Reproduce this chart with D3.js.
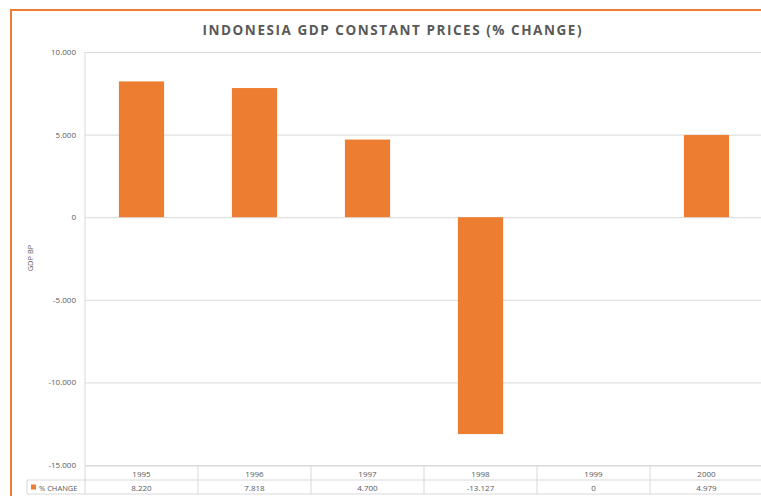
<!DOCTYPE html>
<html>
<head>
<meta charset="utf-8">
<script src="https://cdn.jsdelivr.net/npm/d3@7"></script>
<style>
  html, body { margin: 0; padding: 0; background: #fff; }
  svg { display: block; }
  text { font-family: "Open Sans", "Liberation Sans", sans-serif; }
</style>
</head>
<body>
<div id="chart"></div>
<script>
// Indonesia GDP, constant prices, annual % change
const years = ["1995", "1996", "1997", "1998", "1999", "2000"];
const pctChange = [8.220, 7.818, 4.700, -13.127, 0, 4.979];
const tableLabels = ["8.220", "7.818", "4.700", "-13.127", "0", "4.979"];
const yTicks = [10, 5, 0, -5, -10, -15];
const tickLabels = ["10.000", "5.000", "0", "-5.000", "-10.000", "-15.000"];
const seriesName = "% CHANGE";
const chartTitle = "INDONESIA GDP CONSTANT PRICES (% CHANGE)";
const axisTitle = "GDP BP";

const W = 761, H = 496;
const orange = "#ED7D31";
const grid = "#d9d9d9";
const textGray = "#595959";

const svg = d3.select("#chart").append("svg")
  .attr("width", W).attr("height", H);

// chart frame
svg.append("rect").attr("x", 0).attr("y", 0).attr("width", W).attr("height", H).attr("fill", "#fff");
svg.append("line").attr("x1", 11).attr("x2", W).attr("y1", 10).attr("y2", 10)
  .attr("stroke", orange).attr("stroke-width", 2);
svg.append("line").attr("x1", 11).attr("x2", 11).attr("y1", 9).attr("y2", H)
  .attr("stroke", orange).attr("stroke-width", 2);

// title
svg.append("text")
  .attr("x", 392).attr("y", 35)
  .attr("text-anchor", "middle")
  .attr("font-size", 13.5).attr("font-weight", "bold")
  .attr("fill", textGray)
  .attr("textLength", 379)
  .attr("lengthAdjust", "spacing")
  .text(chartTitle);

const plotLeft = 85, plotRight = 763;
const x = d3.scaleBand().domain(years).range([plotLeft, plotRight]).paddingInner(0.6).paddingOuter(0.3);
const xCol = d3.scaleBand().domain(years).range([plotLeft, plotRight]);
const y = d3.scaleLinear().domain([-15, 10]).range([465, 52]);

// gridlines and value axis
const yAxis = d3.axisLeft(y).tickValues(yTicks)
  .tickSize(-(plotRight - plotLeft))
  .tickFormat((d, i) => tickLabels[i]);
const gy = svg.append("g").attr("transform", `translate(${plotLeft},0)`).call(yAxis);
gy.select(".domain").remove();
gy.selectAll(".tick line").attr("stroke", grid).attr("stroke-width", 1);
gy.selectAll(".tick text").attr("x", -9).attr("fill", textGray).attr("font-size", 8);

// left edge of plot area
svg.append("line").attr("x1", plotLeft).attr("x2", plotLeft).attr("y1", 52).attr("y2", 494)
  .attr("stroke", grid);

// axis title
svg.append("text")
  .attr("transform", `translate(33,258) rotate(-90)`)
  .attr("text-anchor", "middle")
  .attr("font-size", 7.5).attr("fill", textGray)
  .text(axisTitle);

// bars
svg.append("g").selectAll("rect").data(years).join("rect")
  .attr("x", d => x(d))
  .attr("width", x.bandwidth())
  .attr("y", (d, i) => y(Math.max(0, pctChange[i])))
  .attr("height", (d, i) => Math.abs(y(pctChange[i]) - y(0)))
  .attr("fill", orange);

// data table under the plot
const row1 = 466, row2 = 480, rowEnd = 494;
const tbl = svg.append("g").attr("stroke", grid).attr("stroke-width", 1);
tbl.append("line").attr("x1", plotLeft).attr("x2", plotRight).attr("y1", row1).attr("y2", row1);
tbl.append("line").attr("x1", 27).attr("x2", plotRight).attr("y1", row2).attr("y2", row2);
tbl.append("line").attr("x1", 27).attr("x2", plotRight).attr("y1", rowEnd).attr("y2", rowEnd);
tbl.append("line").attr("x1", 27).attr("x2", 27).attr("y1", row2).attr("y2", rowEnd);
tbl.selectAll(".col").data(years).join("line")
  .attr("x1", d => xCol(d) + xCol.bandwidth()).attr("x2", d => xCol(d) + xCol.bandwidth())
  .attr("y1", row1).attr("y2", rowEnd);

svg.append("g").selectAll("text").data(years).join("text")
  .attr("x", d => xCol(d) + xCol.bandwidth() / 2)
  .attr("y", row1 + 10.5)
  .attr("text-anchor", "middle").attr("font-size", 8).attr("fill", textGray)
  .text(d => d);
svg.append("g").selectAll("text").data(years).join("text")
  .attr("x", d => xCol(d) + xCol.bandwidth() / 2)
  .attr("y", row2 + 10.5)
  .attr("text-anchor", "middle").attr("font-size", 8).attr("fill", textGray)
  .text((d, i) => tableLabels[i]);

// legend key in the table
svg.append("rect").attr("x", 31).attr("y", row2 + 4.5).attr("width", 5).attr("height", 5).attr("fill", orange);
svg.append("text").attr("x", 39).attr("y", row2 + 10.5)
  .attr("font-size", 7.5).attr("fill", textGray).text(seriesName);
</script>
</body>
</html>
